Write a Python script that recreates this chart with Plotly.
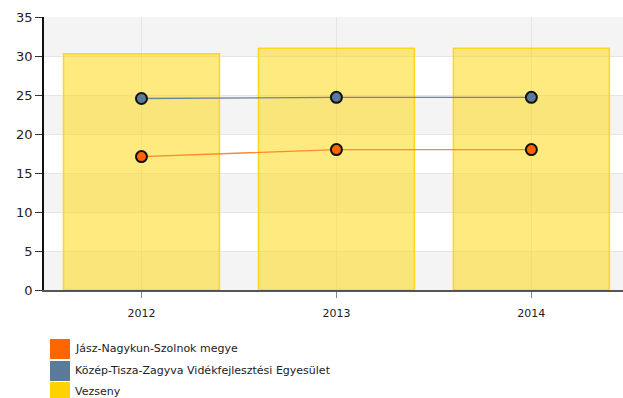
import plotly.graph_objects as go

# data
years = ["2012", "2013", "2014"]
vezseny = [30.3, 31, 31]
kozep_tisza = [24.55, 24.7, 24.7]
jasz_nagykun = [17.1, 18.0, 18.0]

legend_names = [
    "Jász-Nagykun-Szolnok megye",
    "Közép-Tisza-Zagyva Vidékfejlesztési Egyesület",
    "Vezseny",
]
legend_colors = ["#FF6600", "#5A7A9A", "#FFD200"]

FONT = "DejaVu Sans"
W, H = 623, 398
M_L, M_T = 44, 17
M_B = H - M_T - 273

fig = go.Figure()

# bars (Vezseny)
fig.add_trace(go.Bar(
    x=years, y=vezseny,
    width=0.8,
    marker=dict(color="rgba(255,214,0,0.5)",
                line=dict(color="rgba(255,210,0,0.85)", width=1.5)),
    showlegend=False,
    hoverinfo="y",
))

# lines
fig.add_trace(go.Scatter(
    x=years, y=kozep_tisza, mode="lines+markers",
    line=dict(color="#6F8499", width=1.3),
    marker=dict(color="#5A7A9A", size=11, line=dict(color="#111111", width=2)),
    showlegend=False,
))
fig.add_trace(go.Scatter(
    x=years, y=jasz_nagykun, mode="lines+markers",
    line=dict(color="#FF8A2A", width=1.3),
    marker=dict(color="#FF6600", size=11, line=dict(color="#111111", width=2)),
    showlegend=False,
))

# value labels above bars
for yr, v in zip(years, vezseny):
    fig.add_annotation(
        x=yr, y=v, text=f"{v:g}", showarrow=False,
        yanchor="middle", yshift=17,
        font=dict(family=FONT, size=13, color="#222222"),
    )

# alternating background bands
shapes = []
for lo in range(0, 35, 10):
    shapes.append(dict(
        type="rect", xref="paper", yref="y", x0=0, x1=1, y0=lo, y1=lo + 5,
        fillcolor="#F4F4F4", line=dict(width=0), layer="below",
    ))

# manual legend with square swatches below the plot (page pixel positions)
plot_w = W - M_L
plot_h = H - M_T - M_B
def px_to_paper(px, py):
    return (px - M_L) / plot_w, (H - M_B - py) / plot_h

row_top = [339, 361, 382]
for name, col, top in zip(legend_names, legend_colors, row_top):
    x0, y0 = px_to_paper(50, top)
    x1, y1 = px_to_paper(70, top + 20)
    shapes.append(dict(
        type="rect", xref="paper", yref="paper", x0=x0, x1=x1, y0=y1, y1=y0,
        fillcolor=col, line=dict(width=0),
    ))
    tx, ty = px_to_paper(73, top + 9)
    fig.add_annotation(
        xref="paper", yref="paper", x=tx, y=ty, text=name, showarrow=False,
        xanchor="left", yanchor="middle",
        font=dict(family=FONT, size=11, color="#222222"),
    )

fig.update_layout(
    width=W, height=H,
    margin=dict(l=M_L, r=0, t=M_T, b=M_B),
    paper_bgcolor="white",
    plot_bgcolor="white",
    shapes=shapes,
    bargap=0.2,
    xaxis=dict(
        type="category",
        range=[-0.5, 2.47],
        showgrid=True, gridcolor="rgba(200,200,200,0.35)", gridwidth=1,
        showline=True, linecolor="#555555", linewidth=2,
        ticks="outside", ticklen=6, tickcolor="#888888",
        ticklabelstandoff=6,
        tickfont=dict(family=FONT, size=11, color="#222222"),
        fixedrange=True,
    ),
    yaxis=dict(
        range=[0, 35], dtick=5,
        showgrid=True, gridcolor="#E6E6E6", gridwidth=1,
        showline=True, linecolor="#111111", linewidth=1.5,
        ticks="outside", ticklen=7, tickcolor="#333333",
        tickfont=dict(family=FONT, size=13, color="#222222"),
        zeroline=False,
        fixedrange=True,
    ),
)

# drop the default page margin so the figure fills the window exactly
fig.write_html(
    "out.html",
    config={"displayModeBar": False},
    post_script="document.body.style.margin='0';document.body.style.overflow='hidden';",
)
